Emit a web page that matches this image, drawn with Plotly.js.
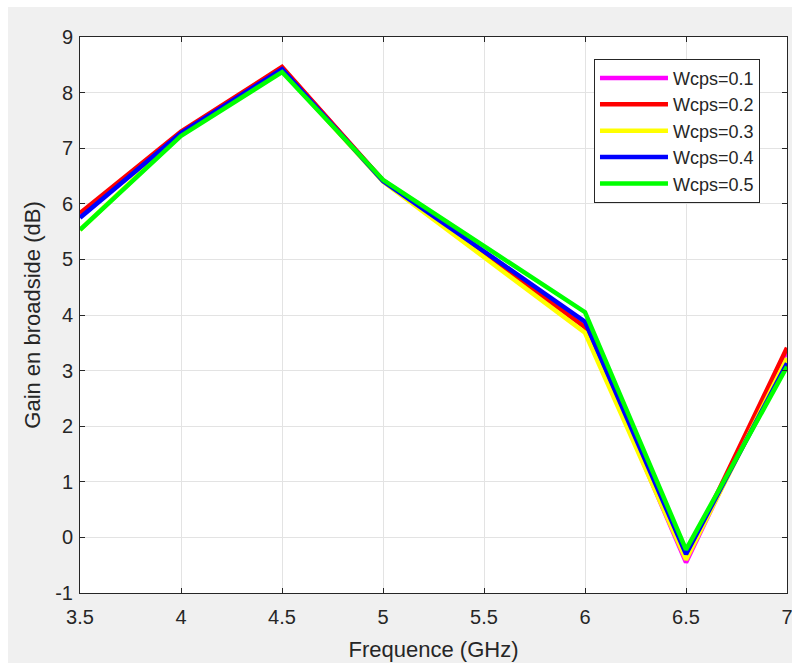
<!DOCTYPE html>
<html>
<head>
<meta charset="utf-8">
<script src="https://cdn.plot.ly/plotly-3.0.1.min.js"></script>
<style>
html,body{margin:0;padding:0;background:#ffffff;}
#chart{position:absolute;left:8px;top:7px;width:784px;height:656px;}
</style>
</head>
<body>
<div id="chart"></div>
<script>
var freq = [3.5, 4, 4.5, 5, 6, 6.5, 7];
var seriesNames = ['Wcps=0.1', 'Wcps=0.2', 'Wcps=0.3', 'Wcps=0.4', 'Wcps=0.5'];
var gain01 = [5.78, 7.28, 8.45, 6.42, 3.8, -0.45, 3.35];
var gain02 = [5.83, 7.3, 8.46, 6.42, 3.78, -0.38, 3.41];
var gain03 = [5.53, 7.25, 8.4, 6.4, 3.68, -0.4, 3.22];
var gain04 = [5.75, 7.27, 8.42, 6.41, 3.88, -0.3, 3.13];
var gain05 = [5.53, 7.22, 8.37, 6.43, 4.05, -0.22, 3.07];
var colors = ['#ff00ff', '#ff0000', '#ffff00', '#0000ff', '#00ff00'];
var xTicks = [3.5, 4, 4.5, 5, 5.5, 6, 6.5, 7];
var xTickText = ['3.5', '4', '4.5', '5', '5.5', '6', '6.5', '7'];
var yTicks = [-1, 0, 1, 2, 3, 4, 5, 6, 7, 8, 9];
var yTickText = ['-1', '0', '1', '2', '3', '4', '5', '6', '7', '8', '9'];
var allGains = [gain01, gain02, gain03, gain04, gain05];

var traces = allGains.map(function(g, i){
  return {x: freq, y: g, type: 'scatter', mode: 'lines', name: seriesNames[i],
          line: {color: colors[i], width: 4.5}};
});

var FONT = 'Liberation Sans, Arial, sans-serif';
var axisCommon = {
  showline: true, linecolor: '#262626', linewidth: 1, mirror: 'ticks',
  ticks: 'inside', ticklen: 5, tickcolor: '#262626', tickwidth: 1,
  showgrid: true, gridcolor: '#e3e3e3', gridwidth: 1, zeroline: false,
  ticklabeloverflow: 'allow',
  tickfont: {family: FONT, size: 20, color: '#262626'}
};

var layout = {
  paper_bgcolor: '#f0f0f0', plot_bgcolor: '#ffffff',
  margin: {l: 72, r: 5, t: 30, b: 70},
  showlegend: true,
  xaxis: Object.assign({}, axisCommon, {
    range: [3.5, 7], tickmode: 'array', tickvals: xTicks, ticktext: xTickText,
    ticklabelstandoff: 6,
    title: {text: 'Frequence (GHz)', standoff: 14,
            font: {family: FONT, size: 22, color: '#262626'}}
  }),
  yaxis: Object.assign({}, axisCommon, {
    range: [-1, 9], tickmode: 'array', tickvals: yTicks, ticktext: yTickText,
    ticklabelstandoff: 2,
    title: {text: 'Gain en broadside (dB)', standoff: 8,
            font: {family: FONT, size: 22, color: '#262626'}}
  }),
  legend: {
    x: 0.727, y: 0.961, xanchor: 'left', yanchor: 'top',
    bgcolor: '#ffffff', bordercolor: '#262626', borderwidth: 1,
    font: {family: FONT, size: 18, color: '#262626'},
    itemwidth: 68, tracegroupgap: 0
  }
};

Plotly.newPlot('chart', traces, layout, {displayModeBar: false, staticPlot: true});
</script>
</body>
</html>
